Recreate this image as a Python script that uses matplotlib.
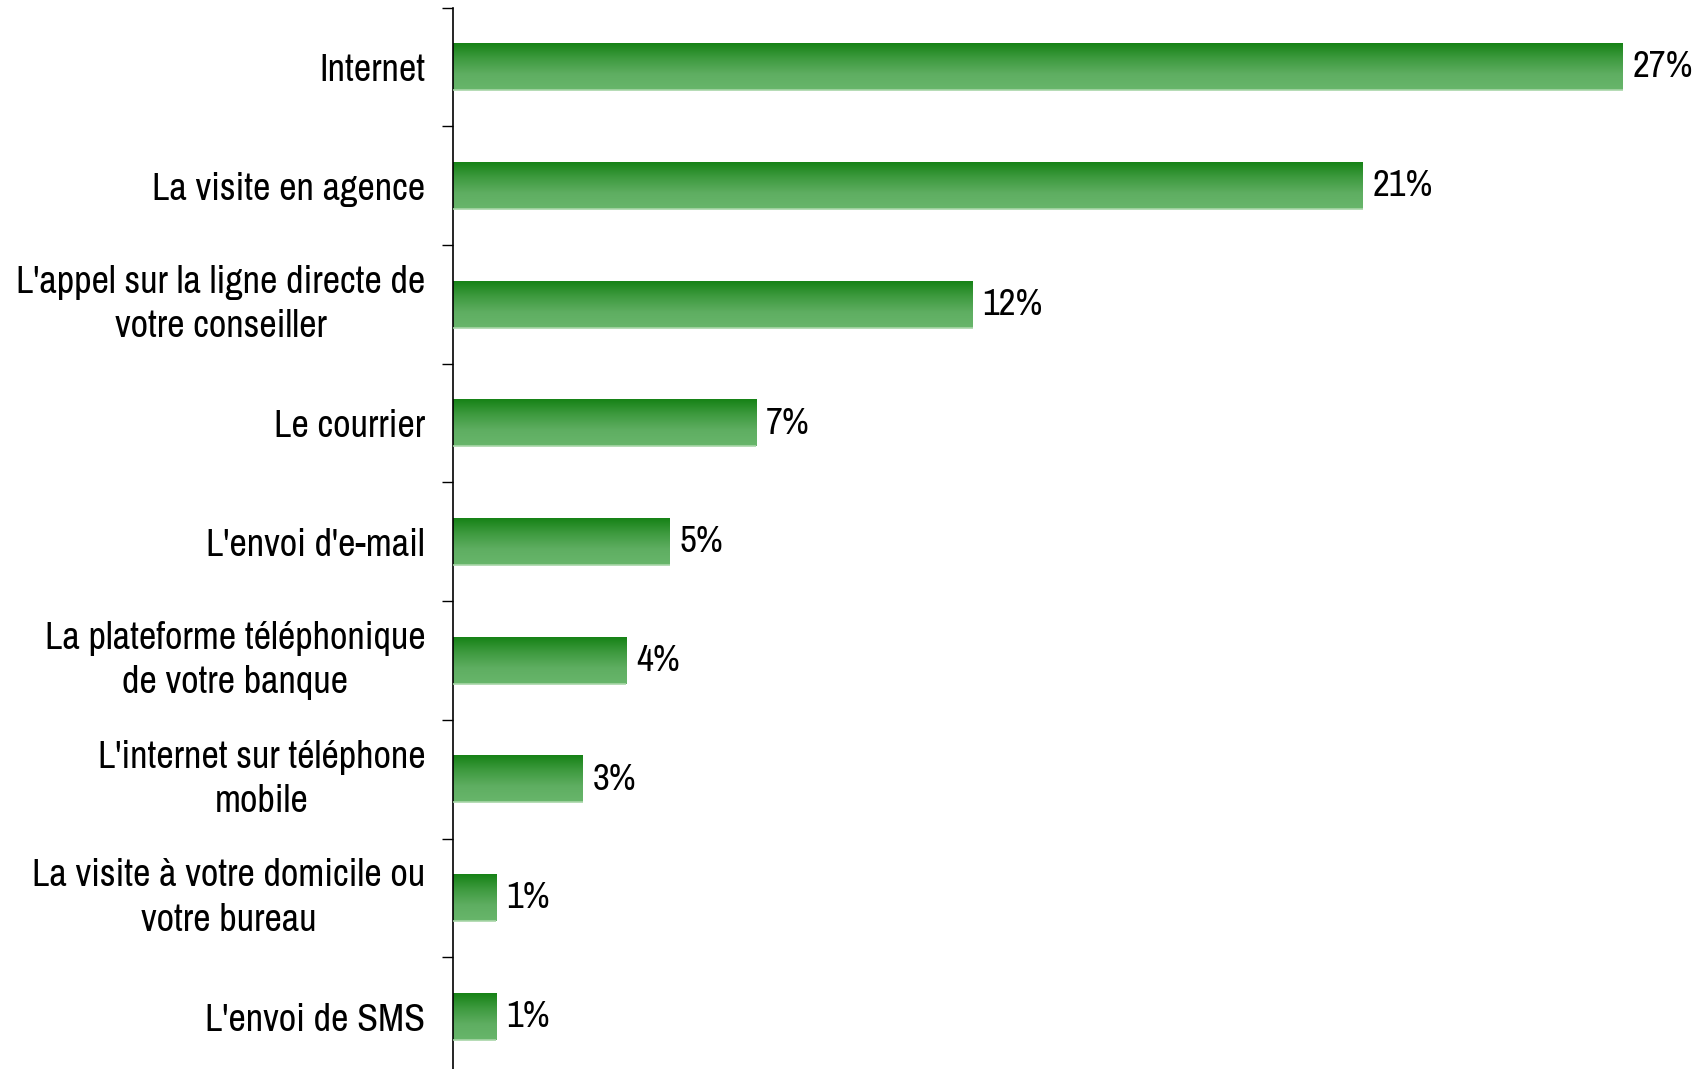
import numpy as np
import matplotlib.pyplot as plt
from matplotlib.colors import LinearSegmentedColormap

plt.rcParams['font.family'] = ['Archivo Narrow', 'DejaVu Sans']
plt.rcParams['font.weight'] = 500

categories = [
    "Internet",
    "La visite en agence",
    "L'appel sur la ligne directe de\nvotre conseiller",
    "Le courrier",
    "L'envoi d'e-mail",
    "La plateforme téléphonique\nde votre banque",
    "L'internet sur téléphone\nmobile",
    "La visite à votre domicile ou\nvotre bureau",
    "L'envoi de SMS",
]
values = [27, 21, 12, 7, 5, 4, 3, 1, 1]

bar_h = 0.39
green = LinearSegmentedColormap.from_list(
    "grn", ["#168216", "#3f9b40", "#5fae62", "#68b66b"])
grad = np.linspace(0, 1, 256).reshape(-1, 1)

fig = plt.figure(figsize=(16.99, 10.69), dpi=100)
ax = fig.add_axes([0.2666, -0.0066, 0.7334, 0.9995])

ypos = np.arange(len(categories))
bars = ax.barh(ypos, values, height=bar_h, color="none", edgecolor="none")
for b, v in zip(bars, values):
    y0 = b.get_y()
    # vertical gradient fill, dark on top
    ax.imshow(grad, cmap=green, aspect="auto", interpolation="bilinear",
              extent=[0, v, y0 + bar_h, y0], zorder=2)
    ax.plot([0, v], [y0 + bar_h, y0 + bar_h], color="#a8d6a8", lw=1.2,
            zorder=3, solid_capstyle="butt")
    ax.text(v + 0.22, y0 + bar_h / 2, f"{v}%", va="center", ha="left",
            fontsize=26.5, color="black")

ax.set_xlim(0, 28.76)
ax.set_ylim(len(categories) - 0.5, -0.5)

ax.set_yticks(ypos)
ax.set_yticklabels(categories, fontsize=27.5, multialignment="center",
                   linespacing=1.33)
for lbl in ax.get_yticklabels():
    if "\n" in lbl.get_text():
        lbl.set_va("center")
ax.tick_params(axis="y", which="major", length=0, pad=20)
ax.set_yticks(np.arange(-0.5, len(categories)), minor=True)
ax.tick_params(axis="y", which="minor", length=8, width=1, color="black")
ax.set_xticks([])

for s in ["top", "right", "bottom"]:
    ax.spines[s].set_visible(False)
ax.spines["left"].set_linewidth(1.2)

fig.savefig("out.png", dpi=100)
